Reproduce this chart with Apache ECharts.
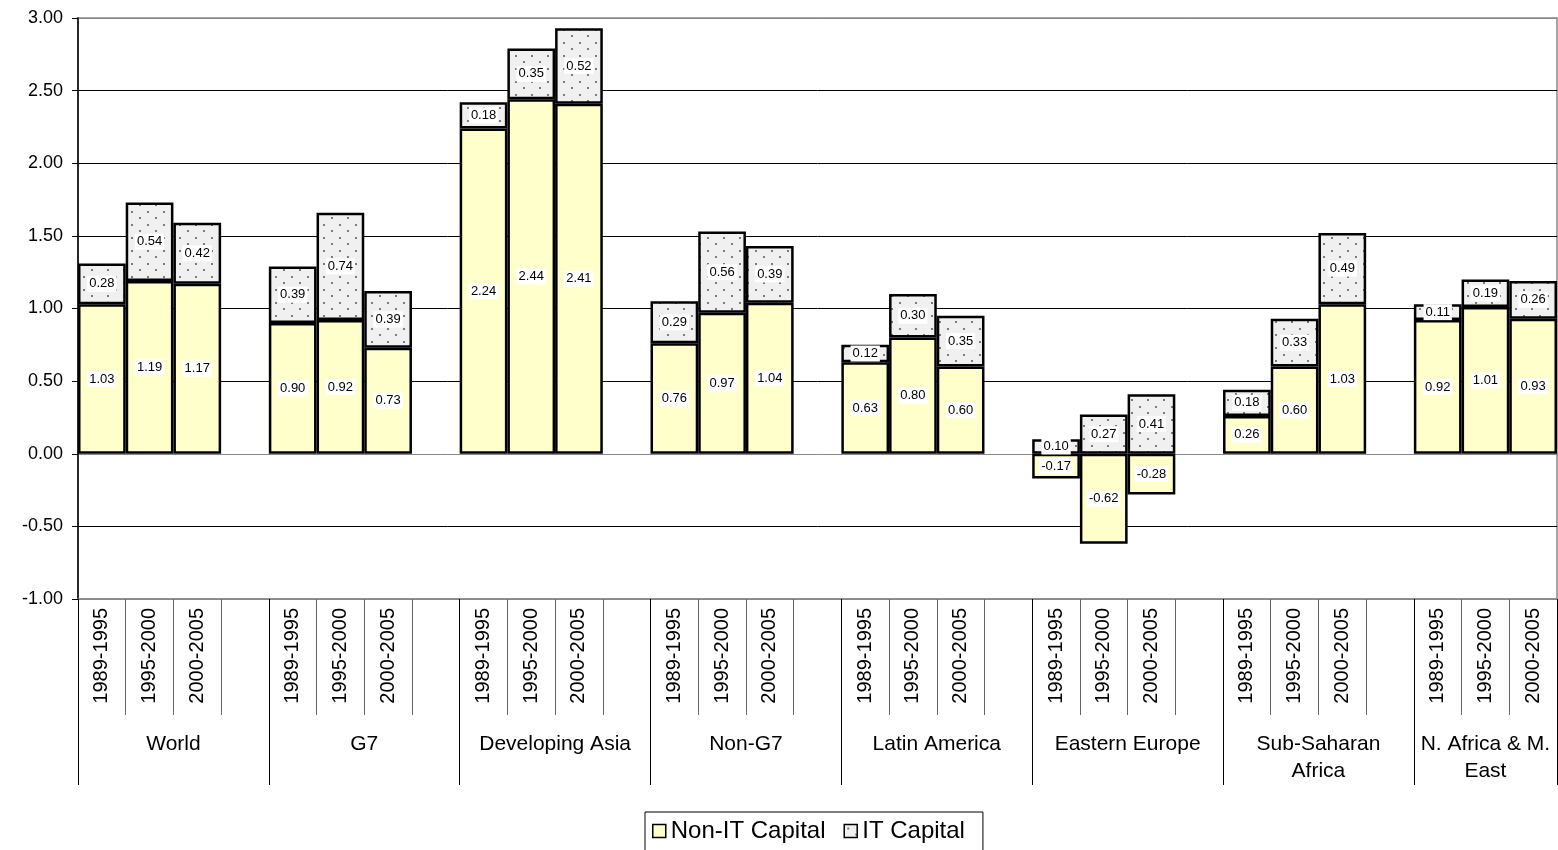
<!DOCTYPE html>
<html>
<head>
<meta charset="utf-8">
<script src="https://cdn.jsdelivr.net/npm/echarts@6/dist/echarts.min.js"></script>
<style>
html,body{margin:0;padding:0;background:#fff;}
#chart{width:1558px;height:850px;}
</style>
</head>
<body>
<div id="chart"></div>
<script>
// ---- data ----
var groups = ['World', 'G7', 'Developing Asia', 'Non-G7', 'Latin America', 'Eastern Europe', 'Sub-Saharan\nAfrica', 'N. Africa & M.\nEast'];
var periods = ['1989-1995', '1995-2000', '2000-2005'];
var nonIT = [1.03, 1.19, 1.17,  0.90, 0.92, 0.73,  2.24, 2.44, 2.41,  0.76, 0.97, 1.04,
             0.63, 0.80, 0.60, -0.17, -0.62, -0.28,  0.26, 0.60, 1.03,  0.92, 1.01, 0.93];
var itCap = [0.28, 0.54, 0.42,  0.39, 0.74, 0.39,  0.18, 0.35, 0.52,  0.29, 0.56, 0.39,
             0.12, 0.30, 0.35,  0.10, 0.27, 0.41,  0.18, 0.33, 0.49,  0.11, 0.19, 0.26];
var yTicks = [-1, 3, 0.5]; // min, max, interval

// ---- build category layout (3 bars + 1 blank slot per group, none after last) ----
var cats = [], nonITData = [], itData = [];
groups.forEach(function (g, gi) {
  periods.forEach(function (p, pi) {
    cats.push(p);
    nonITData.push(nonIT[gi * 3 + pi]);
    itData.push(itCap[gi * 3 + pi]);
  });
  if (gi < groups.length - 1) { cats.push(' '); nonITData.push(null); itData.push(null); }
});
var nSlots = cats.length; // 31
// group axis: half-slot points (boundaryGap false)
var halfPts = [];
for (var i = 0; i <= nSlots * 2; i++) halfPts.push('');
var groupTickIdx = {};
var slotStart = 0;
groups.forEach(function (g, gi) {
  var span = (gi < groups.length - 1) ? 4 : 3;
  groupTickIdx[slotStart * 2] = true;
  halfPts[slotStart * 2 + span] = g;
  slotStart += span;
});
groupTickIdx[nSlots * 2] = true;

// dotted pattern for IT capital
var pc = document.createElement('canvas');
pc.width = 16; pc.height = 13;
var ctx = pc.getContext('2d');
ctx.fillStyle = '#F0F0F0'; ctx.fillRect(0, 0, 16, 13);
ctx.fillStyle = '#7a7a7a';
ctx.fillRect(3, 3, 2, 2);
ctx.fillRect(11, 9, 2, 2);

var font = 'Arial, "Liberation Sans", sans-serif';
var chart = echarts.init(document.getElementById('chart'), null, {renderer: 'canvas'});

var labelCfg = {
  show: true, position: 'inside', color: '#000', fontSize: 13, fontFamily: font,
  backgroundColor: '#fff', padding: [2, 2, 1, 2],
  formatter: function (p) { return p.value == null ? '' : p.value.toFixed(2); }
};

chart.setOption({
  animation: false,
  backgroundColor: '#fff',
  grid: {left: 78, right: 1, top: 18, bottom: 251, show: true, borderColor: '#888', borderWidth: 1.5, backgroundColor: 'transparent'},
  legend: {
    top: 812, left: 645,
    data: ['Non-IT Capital', 'IT Capital'],
    borderColor: '#000', borderWidth: 1, padding: [7, 18, 12, 7], itemGap: 18,
    itemWidth: 13, itemHeight: 13, icon: 'rect',
    itemStyle: {borderColor: '#000', borderWidth: 1.5},
    textStyle: {fontSize: 24, fontFamily: font, color: '#000'}
  },
  xAxis: [{
    type: 'category', data: cats, position: 'bottom', offset: 0,
    axisLine: {onZero: false, show: true, lineStyle: {color: '#888', width: 1.5}},
    axisTick: {show: true, interval: 0, length: 116, lineStyle: {color: '#666', width: 1}},
    axisLabel: {interval: 0, rotate: 90, fontSize: 20, fontFamily: font, color: '#000', margin: 9},
    splitLine: {show: false}
  }, {
    type: 'category', data: halfPts, boundaryGap: false, position: 'bottom', offset: 0,
    axisLine: {show: false, onZero: false},
    axisTick: {show: true, length: 186, lineStyle: {color: '#000', width: 1},
      interval: function (idx) { return !!groupTickIdx[idx]; }},
    axisLabel: {fontSize: 21, fontFamily: font, color: '#000', margin: 132, lineHeight: 27,
      verticalAlign: 'top',
      interval: function (idx, val) { return val !== ''; }},
    splitLine: {show: false}
  }],
  yAxis: {
    type: 'value', min: yTicks[0], max: yTicks[1], interval: yTicks[2],
    axisLine: {show: true, lineStyle: {color: '#000', width: 1.5}},
    axisTick: {show: true, length: 6, lineStyle: {color: '#000'}},
    axisLabel: {fontSize: 18, fontFamily: font, color: '#000', margin: 15,
      formatter: function (v) { return v.toFixed(2); }},
    splitLine: {show: true, lineStyle: {width: 1,
      color: ['#888', '#000', '#888', '#000', '#000', '#000', '#000', '#000', '#888']}}
  },
  series: [{
    name: 'Non-IT Capital', type: 'bar', stack: 'total', xAxisIndex: 0,
    data: nonITData, barCategoryGap: '0%',
    itemStyle: {color: '#FFFFCC', borderColor: '#000', borderWidth: 2.5},
    label: labelCfg
  }, {
    name: 'IT Capital', type: 'bar', stack: 'total', xAxisIndex: 0,
    data: itData, barCategoryGap: '0%',
    itemStyle: {color: {image: pc, repeat: 'repeat'}, borderColor: '#000', borderWidth: 2.5},
    label: labelCfg
  }]
});
</script>
</body>
</html>
